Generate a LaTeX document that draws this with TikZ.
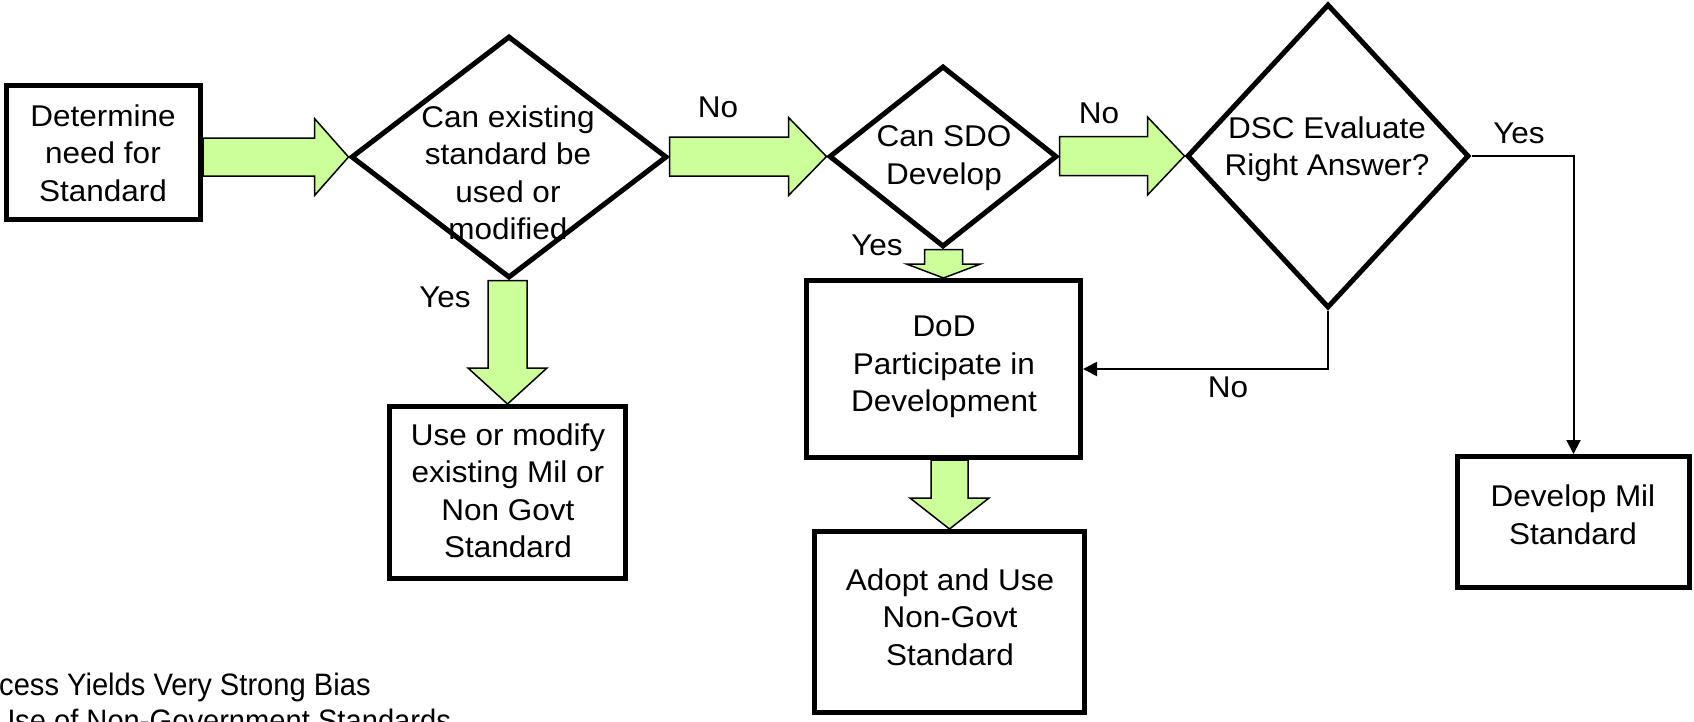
\documentclass[tikz,border=0pt]{standalone}
\usepackage{fontspec}
\setmainfont{Liberation Sans}[FakeStretch=1.05]
\newfontfamily\bottomfont{Liberation Sans}[FakeStretch=0.94]
\usetikzlibrary{shapes.geometric,arrows.meta,calc}
\definecolor{arrowgreen}{HTML}{CCFF99}
\tikzset{
  box/.style={draw, line width=5pt, rectangle, inner sep=0pt, fill=white},
  dia/.style={draw, line width=5pt, diamond, inner sep=0pt, fill=white},
  txt/.style={align=center, font=\fontsize{30}{37.5}\selectfont, inner sep=0pt},
  lbl/.style={font=\fontsize{30}{37.5}\selectfont, inner sep=0pt},
  blk/.style={fill=arrowgreen, draw=black, line width=1.5pt, line join=miter},
  conn/.style={draw, line width=2pt, -{Triangle[length=14pt,width=14pt]}},
  note/.style={anchor=base west, inner sep=0pt, font=\bottomfont\fontsize{31}{35}\selectfont},
}
% horizontal block arrow: from, to, shaft half, head half, head length
\newcommand{\blockH}[5]{%
  \path[blk] let \p1=(#1), \p2=(#2) in
    (\x1,\y2+#3) -- (\x2-#5,\y2+#3) -- (\x2-#5,\y2+#4) -- (\x2,\y2)
    -- (\x2-#5,\y2-#4) -- (\x2-#5,\y2-#3) -- (\x1,\y2-#3) -- cycle;}
% vertical (downward) block arrow: from, to, shaft half, head half, head length
\newcommand{\blockV}[5]{%
  \path[blk] let \p1=(#1), \p2=(#2) in
    (\x2-#3,\y1) -- (\x2-#3,\y2+#5) -- (\x2-#4,\y2+#5) -- (\x2,\y2)
    -- (\x2+#4,\y2+#5) -- (\x2+#3,\y2+#5) -- (\x2+#3,\y1) -- cycle;}
\begin{document}
\begin{tikzpicture}[x=1pt,y=-1pt]
\useasboundingbox (0,0) rectangle (1694,721);

% boxes
\node[box, minimum width=194pt, minimum height=134pt] (det) at (103.5,152.5) {};
\node[box, minimum width=236pt, minimum height=172pt] (use) at (507.5,492.5) {};
\node[box, minimum width=274pt, minimum height=177pt] (dod) at (943.5,369) {};
\node[box, minimum width=270pt, minimum height=181pt] (adopt) at (949.5,622) {};
\node[box, minimum width=232pt, minimum height=131pt] (mil) at (1573.5,522) {};

% diamonds
\node[dia, minimum width=316pt, minimum height=242pt] (d1) at (509,157) {};
\node[dia, minimum width=228pt, minimum height=181pt] (d2) at (943,156.5) {};
\node[dia, minimum width=282pt, minimum height=304pt] (d3) at (1328,156) {};

% texts
\node[txt] (dett) at (103,153) {Determine\\need for\\Standard};
\node[txt] (uset) at (508,491) {Use or modify\\existing Mil or\\Non Govt\\Standard};
\node[txt] (dodt) at (944,367) {DoD\\Participate in\\Development};
\node[txt] (adoptt) at (950,617) {Adopt and Use\\Non-Govt\\Standard};
\node[txt] (milt) at (1573,515) {Develop Mil\\Standard};
\node[txt] (d1t) at (508,173) {Can existing\\standard be\\used or\\modified};
\node[txt] (d2t) at (944,158) {Can SDO\\Develop};
\node[txt] (d3t) at (1327,149) {DSC Evaluate\\Right Answer?};

% block arrows
\blockH{det.east}{d1.west}{19pt}{38.5pt}{34pt}
\blockH{d1.east}{d2.west}{19.5pt}{39pt}{38pt}
\blockH{d2.east}{d3.west}{19.5pt}{39pt}{37pt}
\blockV{d1.south}{use.north}{19.5pt}{39.5pt}{36pt}
\blockV{d2.south}{dod.north}{19pt}{37pt}{14pt}
\blockV{dod.south}{adopt.north}{18.5pt}{39.5pt}{31pt}

% thin connectors
\draw[conn] (d3.east) -| (mil.north);
\draw[conn] (d3.south) |- (dod.east);

% labels
\node[lbl] (lno1) at (718,107) {No};
\node[lbl] (lno2) at (1099,113) {No};
\node[lbl] (lyes2) at (877,245) {Yes};
\node[lbl] (lyes1) at (445,297) {Yes};
\node[lbl] (lyes3) at (1519,133) {Yes};
\node[lbl] (lno3) at (1228,387) {No};

% bottom note (cut off by the picture's edges, as in the reference)
\node[note] (note1) at (-1,695) {cess Yields Very Strong Bias};
\node[note] (note2) at (-6,731) {Use of Non-Government Standards};
\end{tikzpicture}
\end{document}
